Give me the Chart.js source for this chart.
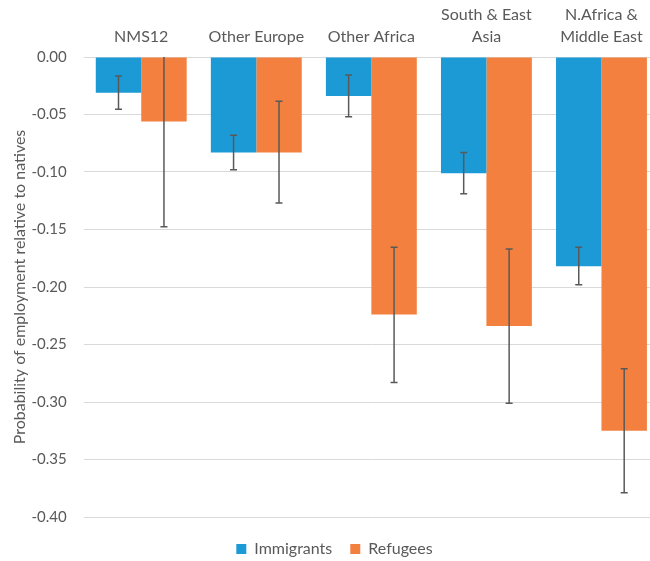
<!DOCTYPE html>
<html>
<head>
<meta charset="utf-8">
<script src="https://cdn.jsdelivr.net/npm/chart.js@4/dist/chart.umd.min.js"></script>
<style>
  html, body { margin: 0; padding: 0; background: #fff; overflow: hidden; }
  #wrap { position: relative; width: 660px; height: 561px; }
</style>
</head>
<body>
<div id="wrap"><canvas id="myChart"></canvas></div>
<script>
// categories (multi-line labels as arrays)
const categories = [
    "NMS12",
    "Other Europe",
    "Other Africa",
    ["South & East", "Asia"],
    ["N.Africa &", "Middle East"]
];

// bar heights
const immigrants = [-0.031, -0.083, -0.034, -0.101, -0.182];
const refugees = [-0.056, -0.083, -0.224, -0.234, -0.325];

// error bar ends (low / high)
const immigrantsLow = [-0.0455, -0.098, -0.052, -0.119, -0.198];
const immigrantsHigh = [-0.0165, -0.068, -0.0157, -0.083, -0.1655];
const refugeesLow = [-0.1475, -0.127, -0.283, -0.301, -0.379];
const refugeesHigh = [0.036, -0.0385, -0.1655, -0.167, -0.271];

// y axis ticks
const yMin = -0.40;
const yMax = 0.00;
const yStep = 0.05;

const textColor = '#595959';
const fontFamily = "Lato, 'Open Sans', sans-serif";

// draws the error whiskers on top of each bar
const errorBars = {
    id: 'errorBars',
    afterDatasetsDraw(chart) {
        const ctx = chart.ctx;
        const yScale = chart.scales.y;
        const area = chart.chartArea;
        ctx.save();
        ctx.beginPath();
        ctx.rect(area.left, area.top, area.right - area.left, area.bottom - area.top);
        ctx.clip();
        ctx.strokeStyle = '#595959';
        ctx.lineWidth = 1.5;
        chart.data.datasets.forEach((ds, i) => {
            const meta = chart.getDatasetMeta(i);
            meta.data.forEach((bar, j) => {
                const x = bar.x;
                const y1 = yScale.getPixelForValue(ds.errLow[j]);
                const y2 = yScale.getPixelForValue(ds.errHigh[j]);
                ctx.beginPath();
                ctx.moveTo(x, y1);
                ctx.lineTo(x, y2);
                ctx.moveTo(x - 3.5, y1);
                ctx.lineTo(x + 3.5, y1);
                ctx.moveTo(x - 3.5, y2);
                ctx.lineTo(x + 3.5, y2);
                ctx.stroke();
            });
        });
        ctx.restore();
    }
};

// keep the legend in the strip under the plot
const legendStrip = {
    id: 'legendStrip',
    beforeLayout(chart) {
        const lg = chart.legend;
        if (lg && !lg._patched) {
            const fit = lg.fit;
            lg.fit = function () {
                fit.call(this);
                this.height = 44;
            };
            lg._patched = true;
        }
    },
    afterLayout(chart) {
        const lg = chart.legend;
        lg.top += 6;
        lg.bottom += 6;
    }
};

const ctx = document.getElementById('myChart');

const chart = new Chart(ctx, {
    type: 'bar',
    data: {
        labels: categories,
        datasets: [{
            label: 'Immigrants',
            data: immigrants,
            errLow: immigrantsLow,
            errHigh: immigrantsHigh,
            backgroundColor: '#1C9AD6'
        }, {
            label: 'Refugees',
            data: refugees,
            errLow: refugeesLow,
            errHigh: refugeesHigh,
            backgroundColor: '#F4803F'
        }]
    },
    plugins: [errorBars, legendStrip],
    options: {
        responsive: true,
        maintainAspectRatio: false,
        animation: false,
        datasets: {
            bar: {
                categoryPercentage: 0.79,
                barPercentage: 1.0
            }
        },
        layout: {
            padding: { left: 10, right: 1, top: 0, bottom: 0 }
        },
        plugins: {
            tooltip: { enabled: false },
            legend: {
                position: 'bottom',
                labels: {
                    color: textColor,
                    font: { family: fontFamily, size: 16 },
                    boxWidth: 10,
                    boxHeight: 10,
                    padding: 18
                }
            }
        },
        scales: {
            x: {
                position: 'top',
                grid: { display: false },
                border: { display: false },
                ticks: {
                    color: textColor,
                    font: { family: fontFamily, size: 16, lineHeight: 1.32 },
                    padding: 2,
                    maxRotation: 0,
                    autoSkip: false
                },
                afterFit(scale) {
                    scale.height = 57;
                }
            },
            y: {
                min: yMin,
                max: yMax,
                grid: {
                    color: '#D9D9D9',
                    lineWidth: 1,
                    drawTicks: false
                },
                border: { display: false },
                ticks: {
                    stepSize: yStep,
                    color: textColor,
                    font: { family: fontFamily, size: 15 },
                    padding: 17,
                    callback: (v) => (Math.abs(v) < 1e-9 ? 0 : v).toFixed(2)
                },
                title: {
                    display: true,
                    text: 'Probability of employment relative to natives',
                    color: textColor,
                    font: { family: fontFamily, size: 16 },
                    padding: { top: 0, bottom: 0 }
                },
                afterFit(scale) {
                    scale.width = 73.7;
                }
            }
        }
    }
});
</script>
</body>
</html>
